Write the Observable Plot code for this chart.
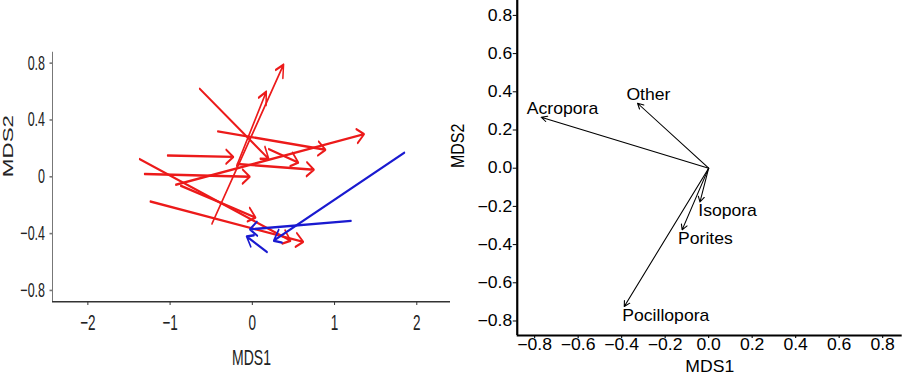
<!DOCTYPE html>
<html>
<head>
<meta charset="utf-8">
<script src="https://cdn.jsdelivr.net/npm/d3@7"></script>
<script src="https://cdn.jsdelivr.net/npm/@observablehq/plot@0.6"></script>
<style>
  html, body { margin: 0; padding: 0; background: white; }
  #wrap { position: relative; width: 904px; height: 374px; overflow: hidden; background: white; }
  #left { position: absolute; left: 0; top: 40px; }
  #right { position: absolute; left: 450px; top: 0; }
</style>
</head>
<body>
<div id="wrap"><div id="left"></div><div id="right"></div></div>
<script>
// ---------- Left panel data (MDS trajectories) ----------
const redX1 = [-0.49, -0.19, -0.64, 0.20, -0.42, -0.93, -1.03, -1.31, -0.18, -1.37, -0.87, -1.24];
const redY1 = [-0.33, 0.077, 0.62, 0.195, 0.32, -0.056, 0.15, 0.02, 0.09, 0.125, -0.063, -0.174];
const redX2 = [0.38, 0.17, 0.20, 0.56, 0.89, 1.36, -0.23, -0.03, 0.75, 0.465, 0.04, 0.62];
const redY2 = [0.79, 0.60, 0.125, 0.10, 0.19, 0.30, 0.14, 0.0, 0.05, -0.45, -0.287, -0.458];

const blueX1 = [1.85, 1.20, 0.18];
const blueY1 = [0.17, -0.31, -0.53];
const blueX2 = [0.26, -0.03, -0.07];
const blueY2 = [-0.45, -0.37, -0.42];

const leftXTicks = [-2, -1, 0, 1, 2];
const leftYTicks = [-0.8, -0.4, 0, 0.4, 0.8];

// ---------- Right panel data (species vectors) ----------
const species = ["Acropora", "Other", "Isopora", "Porites", "Pocillopora"];
const vecX = [-0.77, -0.327, -0.04, -0.122, -0.388];
const vecY = [0.267, 0.34, -0.177, -0.323, -0.724];
const labX = [-0.672, -0.277, 0.087, -0.015, -0.197];
const labY = [0.3125, 0.385, -0.221, -0.369, -0.771];
const rightTicks = [-0.8, -0.6, -0.4, -0.2, 0, 0.2, 0.4, 0.6, 0.8];

const minus = (s) => s.replace("-", "\u2212");
const fmtPlain = (d) => minus(String(d));
const fmtFixed = (d) => minus(d.toFixed(1));

const toSeg = (x1, y1, x2, y2) => x1.map((_, i) => ({x1: x1[i], y1: y1[i], x2: x2[i], y2: y2[i]}));
const redSeg = toSeg(redX1, redY1, redX2, redY2);
const blueSeg = toSeg(blueX1, blueY1, blueX2, blueY2);
const vecs = species.map((s, i) => ({name: s, x1: 0, y1: 0, x2: vecX[i], y2: vecY[i], lx: labX[i], ly: labY[i]}));

function stretch(svg, w, h) {
  svg.setAttribute("width", w);
  svg.setAttribute("height", h);
  svg.setAttribute("preserveAspectRatio", "none");
  svg.style.width = w + "px";
  svg.style.height = h + "px";
  svg.style.maxWidth = "none";
  svg.style.overflow = "visible";
  svg.style.background = "transparent";
}

const FONT = "'Liberation Sans', Arial, Helvetica, sans-serif";

// ---------- Left panel ----------
const kL = 1.6;
const WL = 450, HLf = 334, HL = HLf / kL;
const xDomL = [-2.43, 2.41], yDomL = [-0.88, 0.875];
const left = Plot.plot({
  width: WL, height: HL,
  marginLeft: 52, marginRight: 0,
  marginTop: 11.7 / kL, marginBottom: HL - 261 / kL,
  x: {domain: xDomL, label: null},
  y: {domain: yDomL, label: null},
  style: {fontFamily: FONT, background: "transparent", color: "#222"},
  marks: [
    Plot.ruleY([yDomL[0]], {stroke: "#333", strokeWidth: 1}),
    Plot.ruleX([xDomL[0]], {stroke: "#777", strokeWidth: 1}),
    Plot.axisX({ticks: leftXTicks, tickFormat: fmtPlain, tickSize: 2.5, tickPadding: 5.5, fontSize: 13.5, label: null, stroke: "#333"}),
    Plot.axisY({ticks: leftYTicks, tickFormat: fmtPlain, tickSize: 2.5, tickPadding: 5, fontSize: 12.5, label: null, stroke: "#777"}),
    Plot.arrow(redSeg, {x1: "x1", y1: "y1", x2: "x2", y2: "y2", stroke: "#ec1a1a", strokeWidth: 1.5, headLength: 8.5, headAngle: 62}),
    Plot.arrow(blueSeg, {x1: "x1", y1: "y1", x2: "x2", y2: "y2", stroke: "#1a1ad0", strokeWidth: 1.5, headLength: 8.5, headAngle: 62}),
    Plot.text(["MDS1"], {frameAnchor: "bottom", dy: (364 - 301) / kL, fontSize: 14, fill: "#222"}),
    Plot.text(["MDS2"], {frameAnchor: "left", rotate: -90, dx: 8.5 - 52, fontSize: 14, fill: "#222"})
  ]
});
stretch(left, WL, HLf);
document.getElementById("left").appendChild(left);

// ---------- Right panel ----------
const kR = 1.1;
const WRf = 454, WR = WRf / kR, HR = 374;
const xDomR = [-0.88, 0.89], yDomR = [-0.876, 0.878];
const right = Plot.plot({
  width: WR, height: HR,
  marginLeft: 66.7 / kR, marginRight: 2.3 / kR,
  marginTop: 0, marginBottom: 39,
  x: {domain: xDomR, label: null},
  y: {domain: yDomR, label: null},
  style: {fontFamily: FONT, background: "transparent", color: "black"},
  marks: [
    Plot.ruleY([yDomR[0]], {stroke: "black", strokeWidth: 2}),
    Plot.ruleX([xDomR[0]], {stroke: "black", strokeWidth: 2}),
    Plot.axisX({ticks: rightTicks, tickFormat: fmtFixed, tickSize: 3, tickPadding: 0.5, fontSize: 16, label: null, stroke: "black"}),
    Plot.axisY({ticks: rightTicks, tickFormat: fmtFixed, tickSize: 3.6, tickPadding: 1, fontSize: 16, label: null, stroke: "black"}),
    Plot.arrow(vecs, {x1: "x1", y1: "y1", x2: "x2", y2: "y2", stroke: "black", strokeWidth: 1, headLength: 9, headAngle: 55}),
    Plot.text(vecs, {x: "lx", y: "ly", text: "name", fontSize: 16, fill: "black"}),
    Plot.text(["MDS1"], {frameAnchor: "bottom", dy: 36, fontSize: 16, fill: "black"}),
    Plot.text(["MDS2"], {frameAnchor: "left", rotate: -90, dx: (458.3 - 516.7) / kR, fontSize: 16, fill: "black"})
  ]
});
stretch(right, WRf, HR);
document.getElementById("right").appendChild(right);
</script>
</body>
</html>
